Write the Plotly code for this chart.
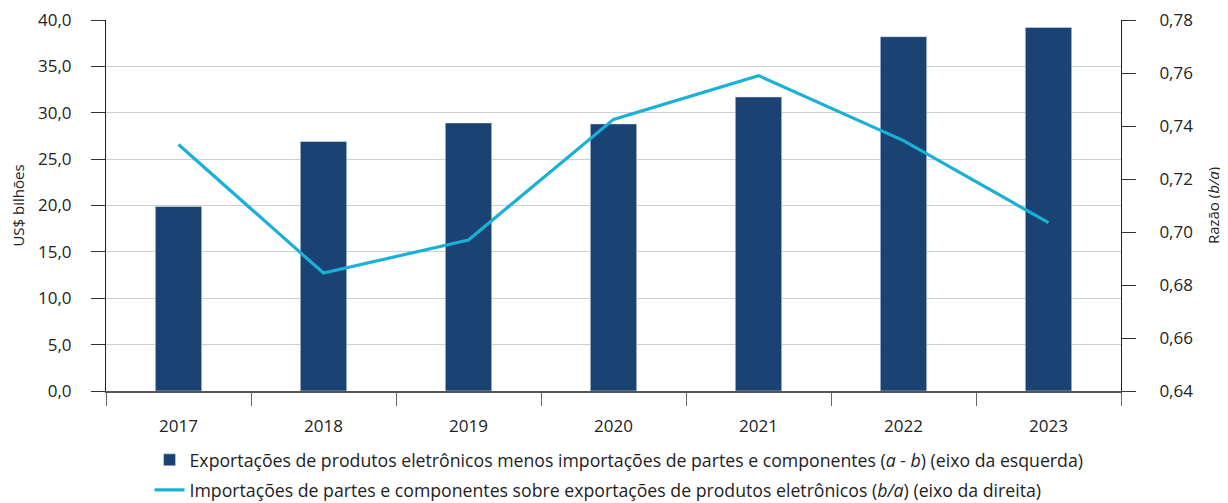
import plotly.graph_objects as go

anos = ["2017", "2018", "2019", "2020", "2021", "2022", "2023"]
saldo = [19.9, 26.9, 28.9, 28.8, 31.7, 38.2, 39.2]
razao = [0.733, 0.6845, 0.697, 0.7425, 0.759, 0.7345, 0.7035]

nome_barra = "Exportações de produtos eletrônicos menos importações de partes e componentes (<i>a - b</i>) (eixo da esquerda)"
nome_linha = "Importações de partes e componentes sobre exportações de produtos eletrônicos (<i>b/a</i>) (eixo da direita)"

fonte = "Open Sans"

fig = go.Figure()

fig.add_trace(go.Bar(
    x=anos, y=saldo, name=nome_barra,
    marker_color="#1a4373", width=0.32, legend="legend",
))

fig.add_trace(go.Scatter(
    x=anos, y=razao, name=nome_linha, yaxis="y2",
    mode="lines", line=dict(color="#1ab0d8", width=3.2), legend="legend2",
))

# a página tem 8px de margem no body
leg_font = dict(family=fonte, size=17.7, color="#222")

fig.update_layout(
    width=1220, height=495,
    margin=dict(l=98, r=107, t=12, b=112, autoexpand=False),
    plot_bgcolor="white", paper_bgcolor="white",
    font=dict(family=fonte, size=17, color="#222"),
    xaxis=dict(
        type="category", tickson="boundaries", ticks="outside", ticklen=13,
        tickcolor="#666", showline=True, linecolor="#555", linewidth=1.5,
        showgrid=False, tickfont=dict(size=17), ticklabelstandoff=19,
    ),
    yaxis=dict(
        range=[0, 40], dtick=5, tickformat=".1f", ticks="outside", ticklen=14,
        tickcolor="#333", showline=True, linecolor="#222", linewidth=1,
        gridcolor="#cfcfcf", gridwidth=1, zeroline=False, ticklabelstandoff=16,
        ticklabeloverflow="allow",
        title=dict(text="US$ bilhões", font=dict(size=15), standoff=11),
    ),
    yaxis2=dict(
        range=[0.64, 0.78], dtick=0.02, tickformat=".2f", overlaying="y", side="right",
        ticks="outside", ticklen=14, tickcolor="#333", showline=True, linecolor="#222",
        linewidth=1, showgrid=False, zeroline=False, ticklabelstandoff=20,
        ticklabeloverflow="allow",
        title=dict(text="Razão (<i>b/a</i>)", font=dict(size=15), standoff=16),
    ),
    separators=",.",
    showlegend=True,
    legend=dict(x=0.0429, xanchor="left", y=-0.137, yanchor="top",
                font=leg_font, itemwidth=30),
    legend2=dict(x=0.0429, xanchor="left", y=-0.218, yanchor="top",
                 font=leg_font, itemwidth=30),
)

fig.write_html("out.html")
